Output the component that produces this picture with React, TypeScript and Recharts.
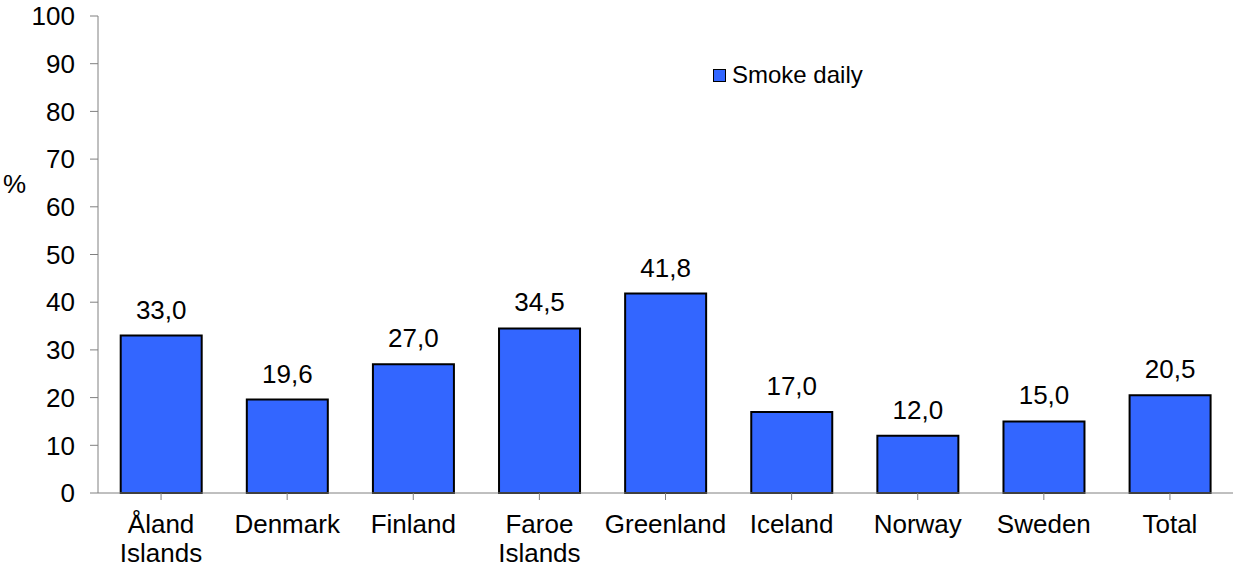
import { BarChart, Bar, XAxis, YAxis, Legend, LabelList } from 'recharts';

const countries = ['Åland\nIslands', 'Denmark', 'Finland', 'Faroe\nIslands', 'Greenland', 'Iceland', 'Norway', 'Sweden', 'Total'];
const smokeDaily = [33.0, 19.6, 27.0, 34.5, 41.8, 17.0, 12.0, 15.0, 20.5];
const yTicks = [0, 10, 20, 30, 40, 50, 60, 70, 80, 90, 100];

const data = countries.map((c, i) => ({ country: c, smoke: smokeDaily[i] }));

const FONT = '"Liberation Sans", Arial, sans-serif';
const FS = 26;

// eslint-disable-next-line @typescript-eslint/no-explicit-any
function CategoryTick(props: any) {
  const { x, y, payload } = props;
  const lines = String(payload.value).split('\n');
  return (
    <text x={x} y={y} textAnchor="middle" fill="#000" fontSize={FS} fontFamily={FONT}>
      {lines.map((l, i) => (
        <tspan key={i} x={x} dy={i === 0 ? 31 : 29}>
          {l}
        </tspan>
      ))}
    </text>
  );
}

function LegendBox() {
  return (
    <div style={{ display: 'flex', alignItems: 'center', fontFamily: FONT, fontSize: 24, color: '#000', whiteSpace: 'nowrap' }}>
      <span
        style={{
          display: 'inline-block',
          width: 11,
          height: 11,
          background: '#3366ff',
          border: '1.5px solid #000',
          marginRight: 6,
        }}
      />
      Smoke daily
    </div>
  );
}

export default function App() {
  return (
    <div style={{ position: 'absolute', left: 0, top: 0, width: 1234, height: 568, background: '#fff' }}>
      <BarChart
        width={1234}
        height={568}
        data={data}
        margin={{ top: 16, right: 1, left: 0, bottom: 45 }}
        barCategoryGap="18%"
      >
        <XAxis
          dataKey="country"
          interval={0}
          tickSize={7}
          stroke="#808080"
          tick={<CategoryTick />}
        />
        <YAxis
          width={98}
          domain={[0, 100]}
          ticks={yTicks}
          interval={0}
          tickSize={8}
          tickMargin={15}
          stroke="#808080"
          tick={{ fill: '#000', fontSize: FS, fontFamily: FONT }}
          label={{ value: '%', position: 'insideLeft', angle: 0, dx: -2, dy: -71, fill: '#000', fontSize: FS, fontFamily: FONT }}
        />
        <Legend
          verticalAlign="middle"
          align="center"
          content={() => <LegendBox />}
          wrapperStyle={{ left: 713, top: 61, width: 220 }}
        />
        <Bar dataKey="smoke" fill="#3366ff" stroke="#000" strokeWidth={2} isAnimationActive={false}>
          <LabelList
            dataKey="smoke"
            position="top"
            offset={17}
            fill="#000"
            fontSize={FS}
            fontFamily={FONT}
            formatter={(v: unknown) => Number(v).toFixed(1).replace('.', ',')}
          />
        </Bar>
      </BarChart>
    </div>
  );
}
